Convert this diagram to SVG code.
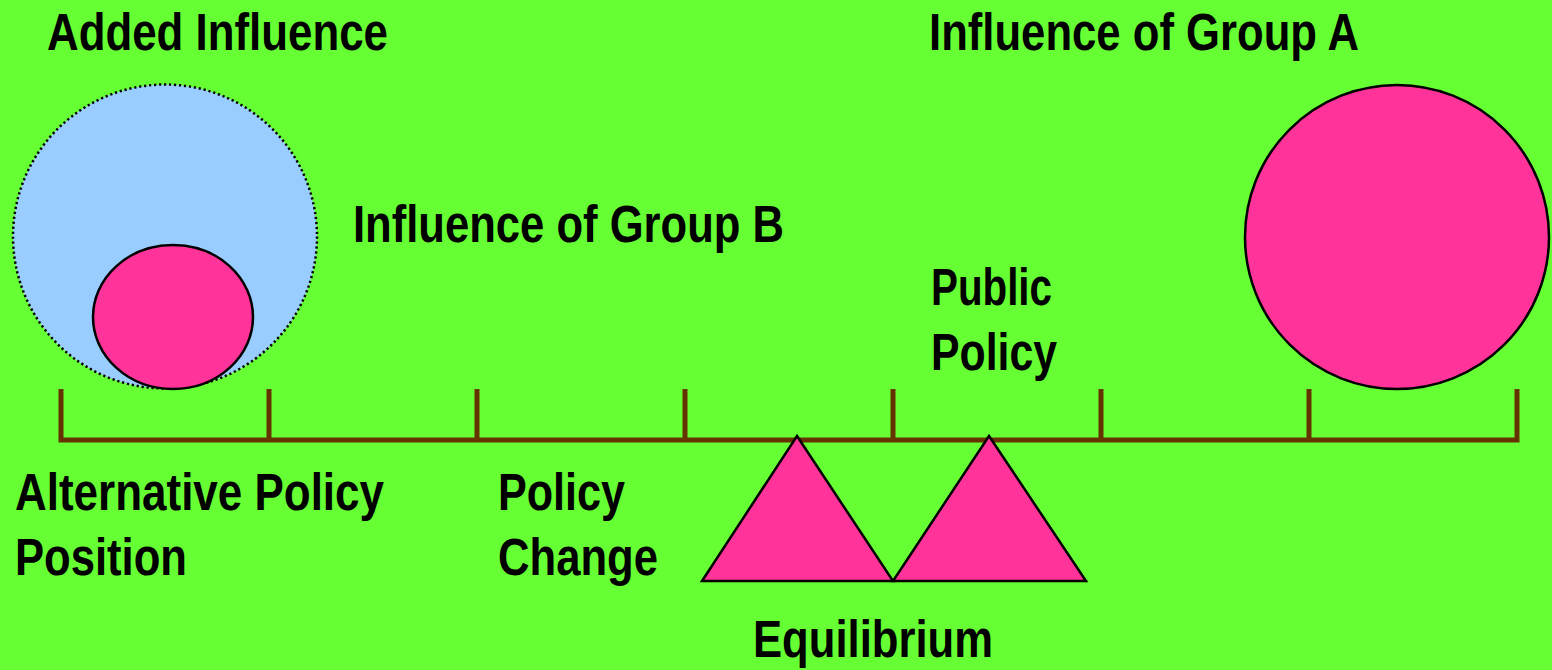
<svg xmlns="http://www.w3.org/2000/svg" width="1552" height="670" viewBox="0 0 1552 670">
  <style>
    .lbl { font-family: "Liberation Sans", Arial, sans-serif; font-weight: bold; font-size: 51px; fill: #000; }
    .pink { fill: #FF3399; stroke: #000; stroke-width: 2.5; }
    .scale { fill: none; stroke: #663300; stroke-width: 5; }
  </style>
  <rect width="1552" height="670" fill="#66FF33"/>

  <!-- policy scale: baseline with tick marks -->
  <g id="connectors">
    <path class="scale" d="M58.5 440 H1519.5 M61 389 V440 M269 389 V440 M477 389 V440 M685 389 V440 M893 389 V440 M1101 389 V440 M1309 389 V440 M1517 389 V440"/>
  </g>

  <g id="added-influence">
    <circle cx="165" cy="236.5" r="152" fill="#99CCFF" stroke="#000" stroke-width="2.5" stroke-dasharray="2.2 2.8"/>
    <text class="lbl" x="47" y="50" textLength="341" lengthAdjust="spacingAndGlyphs">Added Influence</text>
  </g>

  <g id="group-b">
    <ellipse class="pink" cx="173" cy="317" rx="80" ry="72"/>
    <text class="lbl" x="353" y="242" textLength="431" lengthAdjust="spacingAndGlyphs">Influence of Group B</text>
  </g>

  <g id="group-a">
    <circle class="pink" cx="1397" cy="237" r="152"/>
    <text class="lbl" x="929" y="50" textLength="430" lengthAdjust="spacingAndGlyphs">Influence of Group A</text>
  </g>

  <g id="public-policy">
    <text class="lbl" x="931" y="305" textLength="121" lengthAdjust="spacingAndGlyphs">Public</text>
    <text class="lbl" x="931" y="370" textLength="126" lengthAdjust="spacingAndGlyphs">Policy</text>
  </g>

  <g id="alternative-position">
    <text class="lbl" x="15" y="510" textLength="369" lengthAdjust="spacingAndGlyphs">Alternative Policy</text>
    <text class="lbl" x="15" y="575" textLength="172" lengthAdjust="spacingAndGlyphs">Position</text>
  </g>

  <g id="policy-change">
    <text class="lbl" x="498" y="510" textLength="127" lengthAdjust="spacingAndGlyphs">Policy</text>
    <text class="lbl" x="498" y="575" textLength="160" lengthAdjust="spacingAndGlyphs">Change</text>
  </g>

  <g id="equilibrium">
    <polygon class="pink" points="797,436 893,581 702,581"/>
    <polygon class="pink" points="989,436 1086,581 893,581"/>
    <text class="lbl" x="753" y="657" textLength="240" lengthAdjust="spacingAndGlyphs">Equilibrium</text>
  </g>
</svg>
